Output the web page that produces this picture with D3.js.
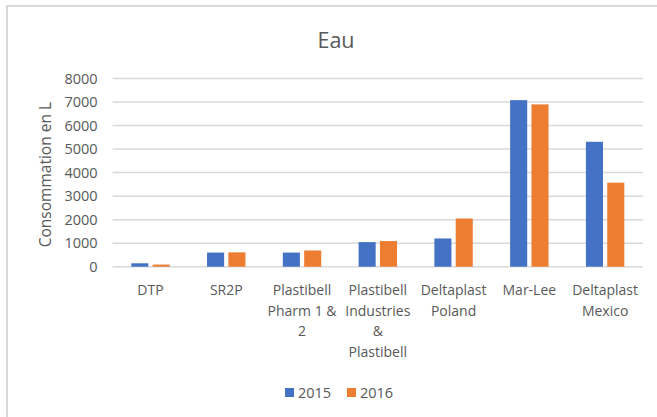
<!DOCTYPE html>
<html>
<head>
<meta charset="utf-8">
<script src="https://cdn.jsdelivr.net/npm/d3@7"></script>
<style>
  html, body { margin: 0; padding: 0; background: #fff; }
  svg { display: block; font-family: "Open Sans", sans-serif; }
</style>
</head>
<body>
<div id="chart"></div>
<script>
  const categories = [
    ['DTP'],
    ['SR2P'],
    ['Plastibell', 'Pharm 1 &', '2'],
    ['Plastibell', 'Industries', '&', 'Plastibell'],
    ['Deltaplast', 'Poland'],
    ['Mar-Lee'],
    ['Deltaplast', 'Mexico']
  ];
  const seriesNames = ['2015', '2016'];
  const values2015 = [145, 600, 600, 1045, 1200, 7080, 5310];
  const values2016 = [90, 610, 690, 1090, 2050, 6900, 3570];
  const yTicks = [0, 1000, 2000, 3000, 4000, 5000, 6000, 7000, 8000];

  const width = 657, height = 417;
  const margin = { top: 78.5, left: 112.6, right: 14, bottom: 150.3 };
  const colors = { '2015': '#4472C4', '2016': '#ED7D31' };
  const textColor = '#595959';
  const gridColor = '#d9d9d9';

  const svg = d3.select('#chart')
    .append('svg')
      .attr('width', width)
      .attr('height', height);

  svg.append('rect')
    .attr('width', width)
    .attr('height', height)
    .attr('fill', '#fff');

  // chart area border (only top and left visible)
  svg.append('path')
    .attr('d', `M7,${height}V6H${width}`)
    .attr('fill', 'none')
    .attr('stroke', gridColor)
    .attr('stroke-width', 2);

  svg.append('text')
    .attr('x', 336)
    .attr('y', 48)
    .attr('text-anchor', 'middle')
    .style('font-size', '21.5px')
    .style('fill', textColor)
    .text('Eau');

  const keys = categories.map(c => c.join(' '));
  const rows = keys.map((k, i) => ({ key: k, '2015': values2015[i], '2016': values2016[i] }));

  const x0 = d3.scaleBand()
    .domain(keys)
    .range([margin.left, width - margin.right])
    .padding(0);

  const x1 = d3.scaleBand()
    .domain(seriesNames)
    .range([-19.2, 19.2])
    .paddingInner(0.2);

  const y = d3.scaleLinear()
    .domain([0, 8000])
    .range([height - margin.bottom, margin.top]);

  // gridlines
  svg.append('g')
    .selectAll('line')
    .data(yTicks)
    .join('line')
      .attr('x1', margin.left)
      .attr('x2', width - margin.right)
      .attr('y1', d => y(d))
      .attr('y2', d => y(d))
      .attr('stroke', gridColor)
      .attr('stroke-width', 1.5);

  // y axis labels
  const yAxis = svg.append('g')
    .attr('transform', `translate(${margin.left - 10},0)`)
    .call(d3.axisLeft(y).tickValues(yTicks).tickSize(0).tickPadding(5).tickFormat(d3.format('d')));
  yAxis.select('.domain').remove();
  yAxis.selectAll('text')
    .style('font-family', '"Open Sans", sans-serif')
    .style('font-size', '14.5px')
    .style('fill', textColor);

  // bars
  const groups = svg.append('g')
    .selectAll('g')
    .data(rows)
    .join('g')
      .attr('transform', d => `translate(${x0(d.key) + x0.bandwidth() / 2},0)`);

  groups.selectAll('rect')
    .data(d => seriesNames.map(s => ({ s, v: d[s] })))
    .join('rect')
      .attr('x', d => x1(d.s))
      .attr('y', d => y(d.v))
      .attr('width', x1.bandwidth())
      .attr('height', d => y(0) - y(d.v))
      .attr('fill', d => colors[d.s]);

  // category labels (wrapped)
  const catLabels = svg.append('g')
    .selectAll('text')
    .data(categories)
    .join('text')
      .attr('x', (d, i) => x0(keys[i]) + x0.bandwidth() / 2)
      .attr('y', 295)
      .attr('text-anchor', 'middle')
      .style('font-size', '14px')
      .style('fill', textColor);
  catLabels.selectAll('tspan')
    .data(d => d)
    .join('tspan')
      .attr('x', function () { return this.parentNode.getAttribute('x'); })
      .attr('dy', (d, i) => i === 0 ? 0 : 20.5)
      .text(d => d);

  // y axis title
  svg.append('text')
    .attr('transform', `translate(51,${(y(0) + y(8000)) / 2 + 2}) rotate(-90)`)
    .attr('text-anchor', 'middle')
    .style('font-size', '15.5px')
    .style('fill', textColor)
    .text('Consommation en L');

  // legend
  const legend = svg.append('g')
    .selectAll('g')
    .data(seriesNames)
    .join('g')
      .attr('transform', (d, i) => `translate(${285 + i * 62},388)`);
  legend.append('rect')
    .attr('width', 9)
    .attr('height', 9)
    .attr('fill', d => colors[d]);
  legend.append('text')
    .attr('x', 13)
    .attr('y', 10)
    .style('font-size', '14.5px')
    .style('fill', textColor)
    .text(d => d);
</script>
</body>
</html>
